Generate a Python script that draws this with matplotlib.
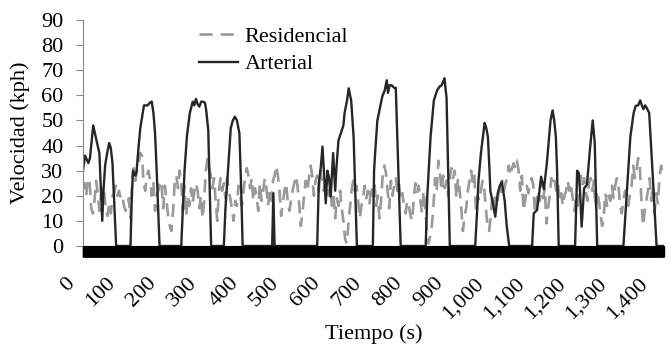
import numpy as np
import matplotlib
matplotlib.use("Agg")
import matplotlib.pyplot as plt
from matplotlib.ticker import FuncFormatter, MultipleLocator
from matplotlib.transforms import ScaledTranslation

plt.rcParams['font.family'] = ['Liberation Serif', 'DejaVu Serif']

# Arterial speed trace (s, kph)
art_t = [0, 5, 13, 17, 25, 33, 40, 44, 47, 50, 54, 59, 64, 68, 72, 81,
         116, 119, 122, 128, 131, 136, 140, 146, 149, 158, 163, 168, 172, 176, 180, 187,
         240, 244, 248, 254, 261, 268, 272, 276, 280, 284, 289, 293, 298, 301, 306, 313,
         344, 348, 354, 361, 366, 371, 376, 382, 386, 390,
         462, 465, 468,
         572, 576, 581, 585, 593, 597, 601, 605, 611, 616, 619, 624, 632, 636, 639, 645,
         649, 655, 661, 669,
         708, 711, 714, 719, 731, 737, 742, 745, 749, 754, 760, 764, 776,
         837, 841, 849, 857, 865, 871, 876, 883, 888, 892, 896,
         958, 963, 966, 972, 981, 985, 989, 993, 995, 1000, 1007, 1013, 1018, 1023, 1030,
         1035, 1041,
         1097, 1101, 1109, 1115, 1119, 1126, 1133, 1142, 1147, 1151, 1155, 1158, 1162,
         1202, 1207, 1211, 1214, 1218, 1224, 1231, 1238, 1242, 1245, 1250, 1253, 1256,
         1320, 1326, 1329, 1337, 1345, 1350, 1356, 1361, 1365, 1369, 1373, 1377, 1383,
         1391, 1401, 1418]
art_v = [30, 36, 33, 35, 48, 42, 37, 22, 10, 22, 32, 37, 41, 39, 33, 0,
         0, 18, 30, 28, 30, 40, 47, 53, 56, 56, 57, 57.5, 53, 45, 30, 0,
         0, 15, 30, 44, 53, 57.5, 56, 58.6, 56.5, 55.5, 57.5, 57.5, 57, 54, 46, 0,
         0, 15, 30, 47, 50, 51.5, 50, 45, 25, 0,
         0, 21, 0,
         0, 25, 31.6, 39.6, 17, 30, 27, 19.6, 37, 22, 31, 42, 46, 48, 53, 58,
         62.8, 58, 43.5, 0,
         0, 30, 38, 50, 59.5, 62, 66, 61, 64, 64, 63, 63, 0,
         0, 20, 43.5, 58, 62, 63.5, 64, 66.8, 59, 30, 0,
         0, 15, 26, 37, 49, 47, 43.5, 30, 22, 18, 11.7, 21, 24, 25.6, 18,
         8, 0,
         0, 13, 14.3, 22, 27.6, 22.6, 33, 50, 54, 50, 43.5, 30, 0,
         0, 30, 29, 22, 7.7, 23, 24.4, 38, 45, 50, 41, 20, 0,
         0, 15, 23, 43.5, 53, 55.8, 56, 58, 56, 54.5, 56, 55, 53,
         30, 0, 0]

# Residencial speed trace, read every 4 s
res_t = np.arange(0, 1417, 4)
res_v = [22, 25, 20, 27, 26, 15, 13, 18, 26, 21, 14, 20, 24, 21, 14, 12, 17, 13, 20, 21,
         24, 20, 22, 19, 20, 16, 14, 16, 19, 11, 26, 31, 26, 30, 33, 37, 36, 25, 22, 28,
         30, 26, 20, 25, 14, 20, 22, 26, 24, 15, 24, 18, 12, 8, 6, 14, 25, 28, 23, 30,
         25, 14, 24, 12, 20, 16, 23, 17, 22, 25, 22, 15, 20, 11, 18, 30, 35, 31, 28, 23,
         27, 18, 10, 22, 27, 22, 25, 19, 27, 22, 19, 14, 10, 18, 16, 24, 20, 16, 22, 27,
         31, 28, 23, 27, 18, 23, 20, 14, 25, 18, 22, 27, 23, 16, 22, 18, 26, 28, 32, 28,
         22, 12, 17, 22, 25, 18, 14, 18, 22, 25, 28, 24, 17, 8, 13, 20, 26, 22, 27, 32,
         28, 20, 26, 28, 22, 30, 25, 22, 26, 24, 20, 23, 16, 20, 11, 19, 16, 22, 15, 10,
         3, 1, 8, 15, 22, 26, 22, 24, 18, 11, 16, 19, 24, 19, 22, 17, 24, 20, 25, 16,
         20, 11, 18, 28, 32, 29, 22, 15, 26, 20, 24, 27, 22, 25, 18, 21, 16, 13, 18, 16,
         12, 10, 19, 25, 21, 24, 18, 13, 22, 15, 6, 1, 4, 8, 16, 27, 22, 34, 29, 22,
         28, 23, 26, 20, 27, 31, 27, 30, 19, 27, 22, 15, 6, 12, 15, 22, 26, 30, 25, 28,
         14, 20, 18, 22, 26, 23, 15, 8, 6, 12, 20, 16, 21, 18, 22, 20, 26, 22, 25, 27,
         32, 28, 31, 33, 31, 34, 30, 22, 28, 14, 18, 24, 21, 25, 27, 24, 13, 18, 22, 18,
         26, 19, 23, 9, 15, 20, 27, 24, 26, 22, 25, 18, 21, 16, 20, 22, 26, 22, 25, 19,
         14, 19, 16, 22, 28, 24, 27, 22, 18, 25, 27, 22, 26, 15, 22, 18, 13, 8, 12, 21,
         16, 20, 18, 24, 19, 24, 27, 24, 16, 13, 18, 22, 20, 16, 21, 24, 32, 27, 30, 35,
         32, 18, 8, 14, 18, 22, 27, 18, 24, 13, 21, 17, 27, 32, 28]

x_max = 1419
xticks = list(range(0, 1401, 100))

fig = plt.figure(figsize=(6.72, 3.45), dpi=100)
ax = fig.add_axes([0.1235, 0.287, 0.8645, 0.655])

ax.plot(res_t, res_v[:len(res_t)], color='#9a9a9a', lw=1.9, dashes=(5, 3),
        label='Residencial')
ax.plot(art_t, art_v, color='#262626', lw=1.7, label='Arterial')

ax.set_xlim(0, x_max)
ax.set_ylim(0, 90)
ax.yaxis.set_major_locator(MultipleLocator(10))
ax.set_xticks(xticks)
ax.set_xticks(np.arange(0, x_max, 1), minor=True)
ax.xaxis.set_major_formatter(FuncFormatter(lambda v, p: f"{int(v):,}"))

for s in ['top', 'right']:
    ax.spines[s].set_visible(False)
ax.spines['left'].set_color('#888888')
ax.spines['bottom'].set_color('black')

ax.tick_params(axis='y', direction='out', length=5, color='#888888', labelsize=16, pad=9)
ax.tick_params(axis='x', which='both', direction='out', length=8, width=1,
               color='black', labelsize=16, pad=17)

offset = ScaledTranslation(-8 / 72, 0, fig.dpi_scale_trans)
for lab in ax.get_xticklabels():
    lab.set_rotation(45)
    lab.set_ha('right')
    lab.set_va('center')
    lab.set_rotation_mode('anchor')
    lab.set_transform(lab.get_transform() + offset)

ax.set_xlabel('Tiempo (s)', fontsize=16, labelpad=1)
ax.set_ylabel('Velocidad (kph)', fontsize=16, labelpad=8)

ax.legend(loc='upper left', bbox_to_anchor=(0.273, 0.968), bbox_transform=fig.transFigure,
          frameon=False, fontsize=16, handlelength=1.75, handletextpad=0.3,
          labelspacing=0.3, borderpad=0.2)

fig.savefig('out.png', dpi=100)
